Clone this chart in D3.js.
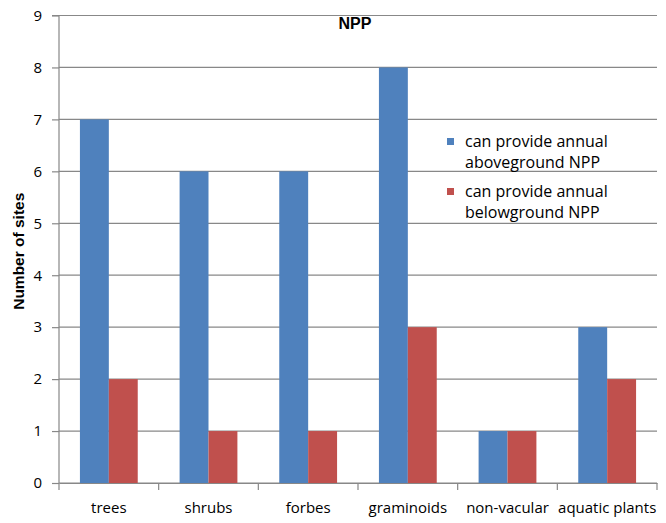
<!DOCTYPE html>
<html>
<head>
<meta charset="utf-8">
<script src="https://cdn.jsdelivr.net/npm/d3@7"></script>
<style>
  html, body { margin: 0; padding: 0; background: #fff; }
  svg { display: block; font-family: "Open Sans", "DejaVu Sans", sans-serif; }
</style>
</head>
<body>
<svg id="chart" width="666" height="523"></svg>
<script>
// Plant groups measured at each site
const categories = ["trees", "shrubs", "forbes", "graminoids", "non-vacular", "aquatic plants"];
const aboveground = [7, 6, 6, 8, 1, 3];
const belowground = [2, 1, 1, 3, 1, 2];
const seriesColors = ["#4f81bd", "#c0504d"];
const yTicks = [0, 1, 2, 3, 4, 5, 6, 7, 8, 9];

const svg = d3.select("#chart");
const margin = { left: 59, right: 9, top: 15.5, bottom: 40 };
const W = 666, H = 523;
const plotW = W - margin.left - margin.right;
const plotH = H - margin.top - margin.bottom;

const g = svg.append("g").attr("transform", `translate(${margin.left},${margin.top})`);

const x0 = d3.scaleBand().domain(categories).range([0, plotW]).padding(0);
const groupW = x0.bandwidth() * 0.58;
const x1 = d3.scaleBand().domain([0, 1]).range([0, groupW]).padding(0);
const y = d3.scaleLinear().domain([0, 9]).range([plotH, 0]);

// horizontal gridlines
g.append("g")
  .selectAll("line")
  .data(yTicks)
  .join("line")
  .attr("x1", 0).attr("x2", plotW)
  .attr("y1", d => y(d)).attr("y2", d => y(d))
  .attr("stroke", "#888").attr("stroke-width", 1.2);

// bars
const series = [aboveground, belowground];
const groups = g.append("g").selectAll("g")
  .data(categories)
  .join("g")
  .attr("transform", d => `translate(${x0(d) + (x0.bandwidth() - groupW) / 2},0)`);

groups.selectAll("rect")
  .data((d, i) => series.map((s, k) => ({ k, v: s[i] })))
  .join("rect")
  .attr("x", d => x1(d.k))
  .attr("width", x1.bandwidth())
  .attr("y", d => y(d.v))
  .attr("height", d => y(0) - y(d.v))
  .attr("fill", d => seriesColors[d.k]);

// y axis
const yAxis = g.append("g")
  .call(d3.axisLeft(y).tickValues(yTicks).tickSize(7).tickPadding(10).tickFormat(d3.format("d")));
yAxis.select(".domain").attr("stroke", "#888").attr("stroke-width", 1.2).attr("d", `M-7,${y(9)}H0V${y(0)}`);
yAxis.selectAll(".tick line").attr("stroke", "#888").attr("stroke-width", 1.2);
yAxis.selectAll(".tick text").attr("font-size", 15).attr("fill", "#000")
  .style("font-family", "'Open Sans', sans-serif");

// x axis
const xAxis = g.append("g").attr("transform", `translate(0,${plotH})`)
  .call(d3.axisBottom(x0).tickSize(0).tickPadding(19));
xAxis.select(".domain").attr("stroke", "#888").attr("stroke-width", 1.2);
xAxis.selectAll(".tick text").attr("font-size", 15).attr("fill", "#000")
  .style("font-family", "'Open Sans', sans-serif");
// category separators
g.append("g").selectAll("line")
  .data(d3.range(categories.length + 1))
  .join("line")
  .attr("x1", i => i * x0.bandwidth()).attr("x2", i => i * x0.bandwidth())
  .attr("y1", plotH).attr("y2", plotH + 7)
  .attr("stroke", "#888").attr("stroke-width", 1.2);

// title
svg.append("text")
  .attr("x", 355).attr("y", 29)
  .attr("text-anchor", "middle")
  .attr("font-size", 16).attr("font-weight", "bold")
  .style("font-family", "'Liberation Sans', sans-serif")
  .text("NPP");

// y-axis title
svg.append("text")
  .attr("transform", `translate(24,${margin.top + plotH / 2 + 2}) rotate(-90)`)
  .attr("text-anchor", "middle")
  .attr("font-size", 15.5).attr("font-weight", "bold")
  .style("font-family", "'Liberation Sans Narrow', 'Liberation Sans', sans-serif")
  .text("Number of sites");

// legend
const legend = svg.append("g").attr("transform", "translate(447,134)");
const legendLines = [["can provide annual", "aboveground NPP"], ["can provide annual", "belowground NPP"]];
legendLines.forEach((lines, k) => {
  const lg = legend.append("g").attr("transform", `translate(0,${k * 50})`);
  lg.append("rect").attr("x", 0).attr("y", 4).attr("width", 7).attr("height", 7)
    .attr("fill", seriesColors[k]);
  lines.forEach((t, j) => {
    lg.append("text").attr("x", 18).attr("y", 13 + j * 21)
      .attr("font-size", 16).attr("fill", "#000")
      .style("font-family", "'Open Sans', sans-serif")
      .text(t);
  });
});
</script>
</body>
</html>
